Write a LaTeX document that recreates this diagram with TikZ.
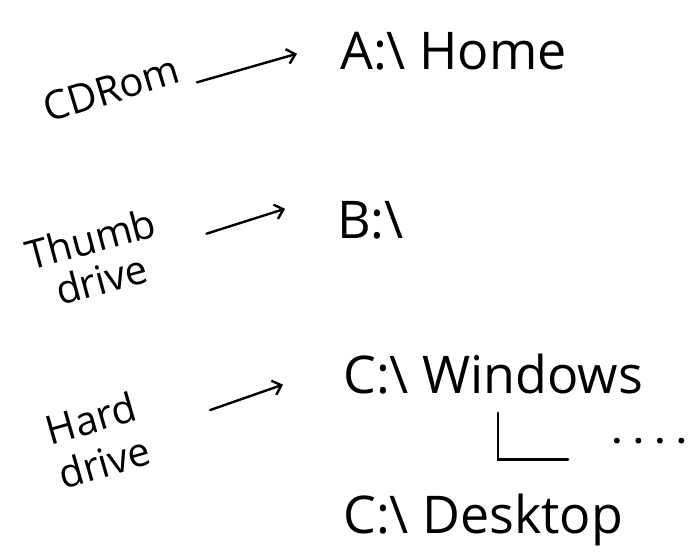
\documentclass[tikz,border=0pt]{standalone}
\usepackage{fontspec}
\setmainfont{Open Sans}
\usetikzlibrary{arrows.meta}
\newcommand*{\bigsz}{\fontsize{52}{58}\selectfont}
\newcommand*{\medsz}{\fontsize{40}{42}\selectfont}
\newcommand*{\dotsz}{\fontsize{34}{38}\selectfont}

\begin{document}
\begin{tikzpicture}[x=1pt, y=-1pt, line cap=round,
    hand/.style={inner sep=0pt, font=\bigsz, anchor=base west},
    src/.style={inner sep=0pt, font=\medsz},
    arr/.style={line width=2.4pt, -{Straight Barb[length=8pt,width=15pt]}},
    tree/.style={line width=2.8pt}]
    \useasboundingbox (0,0) rectangle (692,559);
    % devices
    \node [src, rotate=17, anchor=base west] (cdrom) at (48,123) {CDRom};
    \node [src, rotate=15, align=center] (thumb) at (96,259) {Thumb\\drive};
    \node [src, rotate=16, align=left] (hard) at (98,440) {Hard\\[4pt]drive};
    % paths
    \node [hand] (home)  at (340,70)  {A:\textbackslash{} Home};
    \node [hand] (bdrv)  at (337,238) {B:\textbackslash};
    \node [hand] (win)   at (343,393) {C:\textbackslash{} Windows};
    \node [hand] (desk)  at (343,533) {C:\textbackslash{} Desktop};
    \node [inner sep=0pt, font=\dotsz\bfseries, anchor=base west] (more) at (612,443) {. . . .};
    % arrows
    \draw [arr] ([xshift=14pt]cdrom.south east) -- ([xshift=-43pt,yshift=-2pt]home.west);
    \draw [arr] ([xshift=46pt,yshift=8pt]thumb.east) -- ([xshift=-52pt,yshift=11pt]bdrv.west);
    \draw [arr] ([xshift=67pt,yshift=17pt]hard.east) -- ([xshift=-60pt,yshift=-11pt]win.west);
    \draw [tree] ([xshift=155pt,yshift=-20pt]win.base west) |- ([xshift=-44pt,yshift=-19pt]more.west);
\end{tikzpicture}
\end{document}
